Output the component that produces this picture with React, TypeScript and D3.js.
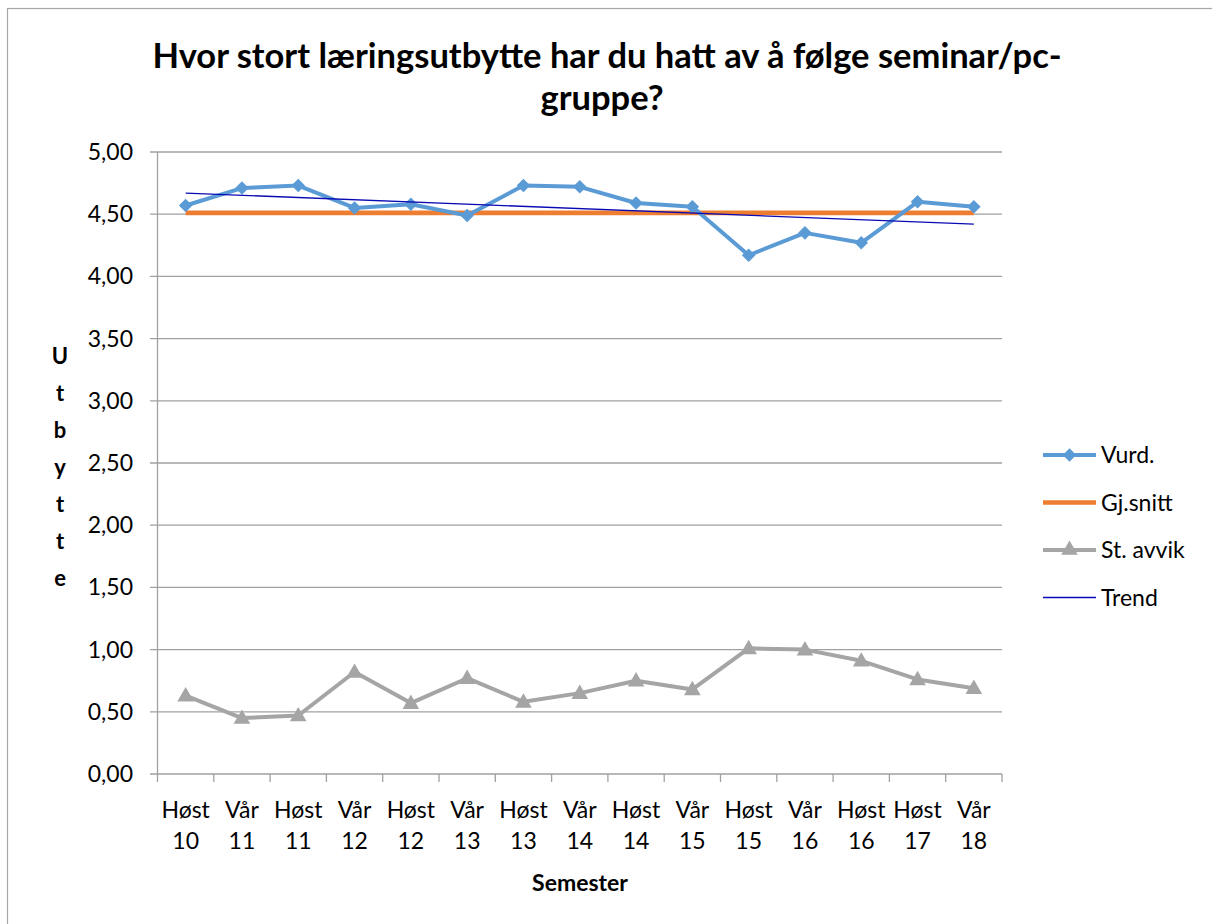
import * as d3 from 'd3';

const categories = [
  'Høst 10', 'Vår 11', 'Høst 11', 'Vår 12', 'Høst 12', 'Vår 13', 'Høst 13', 'Vår 14',
  'Høst 14', 'Vår 15', 'Høst 15', 'Vår 16', 'Høst 16', 'Høst 17', 'Vår 18',
];
const vurd = [4.57, 4.71, 4.73, 4.55, 4.58, 4.49, 4.73, 4.72, 4.59, 4.56, 4.17, 4.35, 4.27, 4.6, 4.56];
const gjSnitt = [4.51, 4.51, 4.51, 4.51, 4.51, 4.51, 4.51, 4.51, 4.51, 4.51, 4.51, 4.51, 4.51, 4.51, 4.51];
const stAvvik = [0.63, 0.45, 0.47, 0.82, 0.57, 0.77, 0.58, 0.65, 0.75, 0.68, 1.01, 1.0, 0.91, 0.76, 0.69];
// trend line end points (first and last category)
const trend = [4.67, 4.42];
const yTicks = [0, 0.5, 1, 1.5, 2, 2.5, 3, 3.5, 4, 4.5, 5];

const W = 1212;
const H = 924;
const font = 'Lato, "Noto Sans", sans-serif';
const colors = { vurd: '#5b9bd5', gj: '#ed7d31', st: '#a5a5a5', trend: '#0a0ab4' };

export default function App() {
  const margin = { left: 157.5, right: 1002, top: 152, bottom: 774 };

  const x = d3.scaleBand().domain(categories).range([margin.left, margin.right]);
  const y = d3.scaleLinear().domain([0, 5]).range([margin.bottom, margin.top]);
  const cx = (c: string) => (x(c) ?? 0) + x.bandwidth() / 2;

  const line = d3
    .line<number>()
    .x((_, i) => cx(categories[i]))
    .y((d) => y(d));

  // square turned 45 degrees reads as Excel's diamond marker
  const diamond = d3.symbol(d3.symbolSquare, 92)();
  const triangle = d3.symbol(d3.symbolTriangle, 120)();

  const trendPath = d3.line<[string, number]>()
    .x((d) => cx(d[0]))
    .y((d) => y(d[1]))([
      [categories[0], trend[0]],
      [categories[categories.length - 1], trend[1]],
    ]);

  const title1 = 'Hvor stort læringsutbytte har du hatt av å følge seminar/pc-';
  const title2 = 'gruppe?';
  const yLabel = 'Utbytte'.split('');

  const legend = [
    { name: 'Vurd.', color: colors.vurd, w: 4, marker: 'diamond' },
    { name: 'Gj.snitt', color: colors.gj, w: 4.5, marker: '' },
    { name: 'St. avvik', color: colors.st, w: 4, marker: 'triangle' },
    { name: 'Trend', color: colors.trend, w: 1.3, marker: '' },
  ];

  return (
    <svg width={W} height={H} style={{ position: 'absolute', left: 0, top: 0, background: '#fff' }} fontFamily={font}>
      <rect x={7.5} y={8.5} width={W + 10} height={H + 10} fill="#fff" stroke="#a6a6a6" strokeWidth={1.2} />

      {/* title */}
      <text x={607} y={68} textAnchor="middle" fontSize={34.5} fontWeight="bold" fill="#000">{title1}</text>
      <text x={602} y={110} textAnchor="middle" fontSize={34.5} fontWeight="bold" fill="#000">{title2}</text>

      {/* gridlines + y ticks */}
      {yTicks.map((t) => (
        <g key={t}>
          <line x1={150} x2={margin.right} y1={y(t)} y2={y(t)} stroke="#a0a0a0" strokeWidth={1.3} />
          <text x={133} y={y(t) + 8} textAnchor="end" fontSize={23} fill="#000">{d3.format('.2f')(t).replace('.', ',')}</text>
        </g>
      ))}
      <line x1={margin.left} x2={margin.left} y1={margin.top} y2={margin.bottom} stroke="#a0a0a0" strokeWidth={1.3} />

      {/* x ticks */}
      {[...categories.map((c) => x(c) ?? 0), margin.right].map((px, i) => (
        <line key={i} x1={px} x2={px} y1={margin.bottom} y2={margin.bottom + 8} stroke="#a0a0a0" strokeWidth={1.3} />
      ))}
      {categories.map((c) => {
        const [a, b] = c.split(' ');
        return (
          <text key={c} x={cx(c)} textAnchor="middle" fontSize={23} fill="#000">
            <tspan x={cx(c)} y={818}>{a}</tspan>
            <tspan x={cx(c)} y={849}>{b}</tspan>
          </text>
        );
      })}

      {/* axis titles */}
      <text x={580} y={891} textAnchor="middle" fontSize={23} fontWeight="bold" fill="#000">Semester</text>
      {yLabel.map((ch, i) => (
        <text key={i} x={60} y={364 + i * 37} textAnchor="middle" fontSize={22} fontWeight="bold" fill="#000">{ch}</text>
      ))}

      {/* series */}
      <path d={line(gjSnitt) ?? ''} fill="none" stroke={colors.gj} strokeWidth={4.8} />
      <path d={line(vurd) ?? ''} fill="none" stroke={colors.vurd} strokeWidth={4} strokeLinejoin="round" />
      {vurd.map((v, i) => (
        <path key={i} d={diamond ?? ''} transform={`translate(${cx(categories[i])},${y(v)}) rotate(45)`} fill={colors.vurd} />
      ))}
      <path d={line(stAvvik) ?? ''} fill="none" stroke={colors.st} strokeWidth={4} strokeLinejoin="round" />
      {stAvvik.map((v, i) => (
        <path key={i} d={triangle ?? ''} transform={`translate(${cx(categories[i])},${y(v) + 1})`} fill={colors.st} />
      ))}
      <path d={trendPath ?? ''} fill="none" stroke={colors.trend} strokeWidth={1.3} />

      {/* legend */}
      {legend.map((l, i) => {
        const ly = 455 + i * 47.5;
        return (
          <g key={l.name}>
            <line x1={1043} x2={1096} y1={ly} y2={ly} stroke={l.color} strokeWidth={l.w} />
            {l.marker === 'diamond' && <path d={diamond ?? ''} transform={`translate(1069.5,${ly}) rotate(45)`} fill={l.color} />}
            {l.marker === 'triangle' && <path d={triangle ?? ''} transform={`translate(1069.5,${ly})`} fill={l.color} />}
            <text x={1101} y={ly + 8} fontSize={23} fill="#000">{l.name}</text>
          </g>
        );
      })}
    </svg>
  );
}
